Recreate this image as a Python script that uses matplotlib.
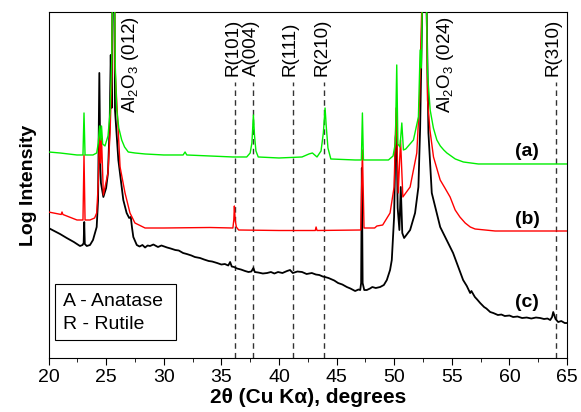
#!/usr/bin/env python3
"""XRD patterns (log intensity) of TiO2 films on Al2O3, curves (a)-(c)."""

import matplotlib
matplotlib.use("Agg")
import matplotlib.pyplot as plt
from matplotlib.patches import Rectangle

plt.rcParams["font.family"] = ["Liberation Sans", "DejaVu Sans"]
plt.rcParams["mathtext.fontset"] = "custom"
plt.rcParams["mathtext.rm"] = "Liberation Sans"
plt.rcParams["mathtext.it"] = "Liberation Sans"

# 2theta (deg) and log intensity (arbitrary, offset per curve)
a_x = [20.00, 21.0, 22.47, 22.99, 23.08, 23.17, 23.86, 24.18, 24.32, 24.43, 24.52,
       24.60, 24.70, 24.90, 25.16, 25.34, 25.49, 25.58, 25.70, 25.80, 25.92, 26.1,
       26.35, 26.6, 26.92, 27.5, 28.38, 30.0, 31.68, 31.85, 32.0, 34.0, 36.0, 37.2,
       37.5, 37.65, 37.78, 37.88, 38.0, 38.2, 40.0, 42.0, 42.6, 42.9, 43.3, 43.65,
       43.85, 44.0, 44.1, 44.25, 44.5, 46.6, 47.15, 47.24, 47.33, 49.5, 49.9, 50.1,
       50.22, 50.32, 50.50, 50.66, 50.80, 51.0, 51.67, 52.10, 52.25, 52.35, 52.50,
       52.75, 52.89, 53.12, 53.4, 53.70, 54.0, 54.3, 54.57, 55.3, 56.0, 57.3, 60.0,
       65.0]
a_y = [206, 205, 203, 203, 245, 203, 203, 205, 215, 232, 218,
       232, 214, 212, 222, 245, 300, 400, 400, 290, 248, 230,
       218, 211, 206, 205, 204, 203, 203, 206, 203, 202, 201, 201,
       205, 215, 243, 222, 207, 201, 200, 201, 204, 205, 201, 207,
       225, 250, 232, 210, 199, 198, 198, 245, 198, 198, 202, 215,
       293, 214, 211, 235, 208, 209, 218, 241, 308, 290, 400,
       400, 285, 248, 230, 218, 212, 208, 205, 199, 196, 194, 194,
       194]

b_x = [20.00, 21.10, 21.17, 21.25, 22.47, 22.99, 23.08, 23.17, 23.60, 24.0, 24.18,
       24.32, 24.43, 24.52, 24.60, 24.76, 25.16, 25.34, 25.49, 25.58, 25.72, 25.77,
       25.95, 26.21, 26.64, 27.07, 27.5, 28.38, 30.0, 34.0, 36.0, 36.08, 36.13,
       36.2, 36.3, 36.5, 40.0, 43.15, 43.22, 43.3, 47.1, 47.24, 47.38, 48.3, 48.5,
       49.0, 49.64, 49.99, 50.17, 50.35, 50.55, 50.75, 51.38, 51.96, 52.2, 52.3,
       52.50, 52.75, 52.89, 53.1, 53.41, 53.99, 54.4, 54.85, 55.29, 55.7, 56.16,
       56.6, 57.02, 58.76, 65.0]
b_y = [146, 143.5, 146, 143.5, 138, 138, 203, 138, 138, 140, 145,
       175, 228, 195, 220, 163, 185, 225, 281, 400, 400, 291,
       250, 191, 165, 145, 135, 130, 130, 130.5, 130, 138, 152,
       138, 131, 128, 127.5, 127.5, 131, 127.5, 128, 208, 130, 130, 132,
       133, 145, 171, 250, 165, 218, 161, 171, 205, 258, 308,
       400, 400, 258, 228, 201, 178, 170, 161, 148, 141, 135,
       131, 129, 127, 127]

c_x = [20.00, 20.5, 21.0, 21.58, 22.2, 22.73, 22.95, 23.05, 23.10, 23.15, 23.32,
       23.60, 23.86, 24.18, 24.30, 24.41, 24.50, 24.55, 24.76, 25.0, 25.16, 25.30,
       25.40, 25.48, 25.58, 25.70, 25.77, 26.06, 26.49, 26.78, 27.0, 27.14, 27.25,
       27.36, 27.66, 27.9, 28.15, 28.38, 28.6, 28.81, 29.1, 29.5, 29.8, 30.29,
       30.6, 31.0, 31.3, 31.68, 32.0, 32.4, 32.7, 33.15, 33.5, 33.9, 34.2, 34.63,
       35.0, 35.3, 35.6, 35.76, 35.9, 36.1, 36.36, 36.7, 37.06, 37.35, 37.6, 37.78,
       37.9, 38.2, 38.6, 38.97, 39.3, 39.6, 39.92, 40.3, 40.70, 40.96, 41.2, 41.6,
       42.0, 42.4, 42.85, 43.2, 43.5, 43.8, 44.0, 44.3, 44.5, 44.8, 45.13, 45.5,
       45.89, 46.2, 46.61, 46.9, 47.05, 47.13, 47.19, 47.26, 47.40, 47.62, 47.9,
       48.1, 48.4, 48.78, 49.1, 49.36, 49.64, 49.79, 49.99, 50.12, 50.20, 50.30,
       50.45, 50.57, 50.70, 50.86, 51.38, 51.81, 52.10, 52.25, 52.40, 52.50, 52.75,
       52.97, 53.26, 53.99, 55.11, 55.98, 56.3, 56.59, 56.70, 57.0, 57.2, 57.46,
       57.8, 58.0, 58.33, 58.6, 59.0, 59.3, 59.6, 60.0, 60.32, 60.7, 61.1, 61.5,
       61.9, 62.3, 62.67, 63.0, 63.3, 63.54, 63.70, 63.80, 64.0, 64.23, 64.5, 64.8,
       65.0]
c_y = [130, 127, 124, 120, 116, 112, 113, 115, 136, 114, 112,
       113, 118, 131, 158, 285, 190, 175, 161, 170, 185, 230,
       303, 250, 400, 400, 248, 198, 158, 145, 140, 141, 130,
       121, 113, 111.5, 113, 110.5, 112.5, 112, 113.5, 111, 112.5, 110.5,
       109.5, 108, 107.5, 105, 104, 102.5, 101, 100, 98.5, 97, 96.5, 95,
       93.5, 94, 92.5, 96, 91.5, 91, 89.5, 88.5, 87, 86, 86.5, 90,
       86, 85.5, 84.5, 85, 86, 84.5, 86, 85, 87, 88, 85, 86.5,
       86, 84, 85, 83.5, 83, 81.5, 81, 80, 79, 77.5, 75, 73.5,
       71, 69.5, 67, 68.5, 68, 75, 190, 75, 68, 68, 69.5,
       71, 70, 71, 73, 78, 88, 98, 141, 220, 230, 150,
       128, 171, 125, 120, 128, 145, 171, 230, 325, 400, 400,
       225, 165, 131, 105, 78, 72, 65, 67, 61, 58.5, 55,
       51, 49.5, 46, 45, 43, 43.5, 42, 42.5, 41, 41.5, 40, 40.5,
       39.5, 40.5, 40, 39, 39.5, 38, 41, 46, 39, 36, 37, 35,
       35]

# reference peak markers
peak_pos = [36.19, 37.78, 41.2, 43.94, 64.0]
peak_names = ["R(101)", "A(004)", "R(111)", "R(210)", "R(310)"]
sub_pos = [27.1, 54.45]
sub_names = ["Al$_2$O$_3$ (012)", "Al$_2$O$_3$ (024)"]
curve_names = ["(a)", "(b)", "(c)"]
curve_label_y = [206, 138, 56]

fig = plt.figure(figsize=(5.81, 4.12), dpi=100)
ax = fig.add_axes([0.0835, 0.131, 0.8925, 0.840])

ax.plot(c_x, c_y, color="black", lw=1.3, zorder=3)
ax.plot(b_x, b_y, color="#ff0000", lw=1.0, zorder=4)
ax.plot(a_x, a_y, color="#00ee00", lw=1.0, zorder=5)

for pos, name in zip(peak_pos, peak_names):
    ax.plot([pos, pos], [0, 276], color="#333333", lw=1.0,
            dashes=(4, 3), zorder=2)
    ax.text(pos - 0.2, 282, name, rotation=90, ha="center", va="bottom",
            fontsize=13.5)

for pos, name in zip(sub_pos, sub_names):
    ax.text(pos, 245, name, rotation=90, ha="center", va="bottom",
            fontsize=13.5)

for name, yv in zip(curve_names, curve_label_y):
    ax.text(61.55, yv, name, ha="center", va="center", fontsize=14,
            fontweight="bold")

# legend box
ax.add_patch(Rectangle((20.56, 18), 10.5, 56, fill=False, ec="black",
                       lw=0.8, zorder=6))
ax.text(21.25, 57, "A - Anatase", ha="left", va="center", fontsize=14)
ax.text(21.25, 34, "R - Rutile", ha="left", va="center", fontsize=14)

ax.set_xlim(20, 65)
ax.set_ylim(0, 346)
ax.set_xticks(range(20, 66, 5))
ax.set_xticks([22.5 + 5 * i for i in range(9)], minor=True)
ax.set_yticks([])
ax.tick_params(axis="x", which="major", length=5, labelsize=14, pad=3)
ax.tick_params(axis="x", which="minor", length=3)
ax.set_xlabel(r"2θ (Cu Kα), degrees", fontsize=15, fontweight="bold",
              labelpad=1)
ax.set_ylabel("Log Intensity", fontsize=14, fontweight="bold", labelpad=8)

fig.savefig("out.png", dpi=100)
plt.close(fig)
